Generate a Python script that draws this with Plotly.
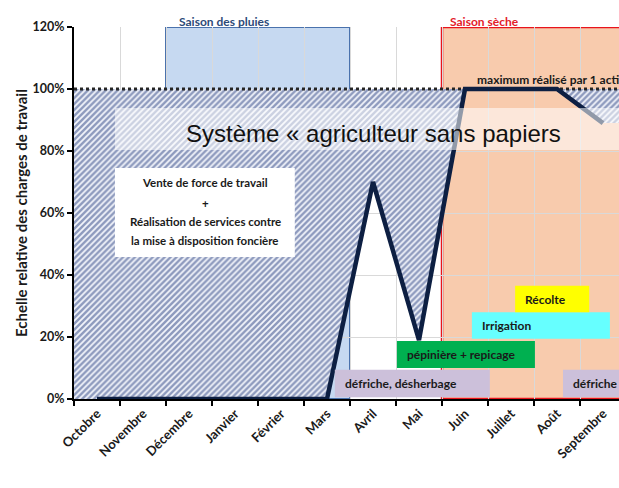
import plotly.graph_objects as go

# ---------------- data ----------------
months = ["Octobre", "Novembre", "Décembre", "Janvier", "Février", "Mars",
          "Avril", "Mai", "Juin", "Juillet", "Août", "Septembre"]
charge = [0, 0, 0, 0, 0, 0, 70, 19, 100, 100, 100, 89]   # % of max workload
max_level = 100
y_ticks = [0, 20, 40, 60, 80, 100, 120]
y_ticktext = ["0%", "20%", "40%", "60%", "80%", "100%", "120%"]

# seasons: (label, first month index, last month index)
season_rain = ("Saison des pluies", 2, 5)
season_dry = ("Saison sèche", 8, 11)

# activities: label, start, end (month units), band low/high (%), colour
act_labels = ["défriche, désherbage", "pépinière + repicage", "Irrigation", "Récolte", "défriche"]
act_start = [5.17, 6.52, 8.15, 9.09, 10.13]
act_end = [8.54, 9.52, 11.15, 10.70, 12.5]
act_low = [0.6, 10.0, 19.4, 28.0, 0.6]
act_high = [9.4, 18.7, 28.0, 36.5, 9.4]
act_colors = ["#ccc0da", "#00b050", "#66ffff", "#ffff00", "#ccc0da"]

box_lines = ["Vente de force de travail", "+", "Réalisation de services contre",
             "la mise à disposition foncière"]

FONT = "Lato"
x = list(range(len(months)))
XMAX = -0.5 + 545 / 46

fig = go.Figure()

# hatched area between workload and max level
hx = [-0.5] + x + [x[-1] + 0.6]
hy = [charge[0]] + charge + [charge[-1]]
fig.add_trace(go.Scatter(x=hx, y=hy, mode="lines", line=dict(width=0),
                         showlegend=False, hoverinfo="skip"))
fig.add_trace(go.Scatter(x=hx, y=[max_level] * len(hx), mode="lines",
                         line=dict(color="#262626", width=3, dash="dot"),
                         fill="tonexty", fillcolor="white",
                         fillpattern=dict(shape="/", size=4.2, solidity=0.58,
                                          fgcolor="#263d80", bgcolor="#f4f6fb"),
                         showlegend=False, hoverinfo="skip"))
# workload line
fig.add_trace(go.Scatter(x=x, y=charge, mode="lines",
                         line=dict(color="#0d1f42", width=4.5),
                         showlegend=False))

shapes = []
shapes.append(dict(type="rect", xref="x", yref="y", layer="below",
                   x0=season_rain[1] - 0.5, x1=season_rain[2] + 0.5, y0=0, y1=120,
                   fillcolor="#c6d9f1", line=dict(color="#4a72ad", width=2)))
shapes.append(dict(type="rect", xref="x", yref="y", layer="below",
                   x0=season_dry[1] - 0.5, x1=season_dry[2] + 1.5, y0=0, y1=120,
                   fillcolor="#f8cbad", line=dict(color="#e8141c", width=2.5)))
for lab, s, e, lo, hi, c in zip(act_labels, act_start, act_end, act_low, act_high, act_colors):
    shapes.append(dict(type="rect", xref="x", yref="y", layer="above",
                       x0=s, x1=e, y0=lo, y1=hi, fillcolor=c, line=dict(width=0)))
shapes.append(dict(type="rect", xref="x", yref="y", layer="above",
                   x0=0.39, x1=4.30, y0=45.8, y1=74.5, fillcolor="white", line=dict(width=0)))
shapes.append(dict(type="rect", xref="x", yref="y", layer="above",
                   x0=0.39, x1=12.5, y0=80.3, y1=93.9,
                   fillcolor="rgba(255,255,255,0.55)", line=dict(width=0)))

annotations = []
bold = dict(family=FONT, size=12, color="#1a1a1a", weight="bold")
for lab, s, lo, hi in zip(act_labels, act_start, act_low, act_high):
    annotations.append(dict(x=s + 0.17, y=(lo + hi) / 2, xref="x", yref="y", text=lab,
                            showarrow=False, xanchor="left", yanchor="middle", font=bold))
line_y = [69.7, 63.2, 57.1, 51.0]
for t, yy in zip(box_lines, line_y):
    annotations.append(dict(x=2.35, y=yy, xref="x", yref="y", text=t,
                            showarrow=False, xanchor="center", yanchor="middle",
                            font=dict(family=FONT, size=11.5, color="#1a1a1a", weight="bold")))
annotations.append(dict(x=6.02, y=85.8, xref="x", yref="y",
                        text="Système « agriculteur sans papiers",
                        showarrow=False, xanchor="center", yanchor="middle",
                        font=dict(family="Liberation Sans", size=24, color="#111111")))
annotations.append(dict(x=1.74, y=(399 - 21) / 372, xref="x", yref="paper", text=season_rain[0],
                        showarrow=False, xanchor="left", yanchor="middle",
                        font=dict(family=FONT, size=12, color="#2d4a78", weight="bold")))
annotations.append(dict(x=7.63, y=(399 - 21) / 372, xref="x", yref="paper", text=season_dry[0],
                        showarrow=False, xanchor="left", yanchor="middle",
                        font=dict(family=FONT, size=12, color="#e3202a", weight="bold")))
annotations.append(dict(x=8.22, y=103.2, xref="x", yref="y", text="maximum réalisé par 1 actif",
                        showarrow=False, xanchor="left", yanchor="middle",
                        font=dict(family=FONT, size=12, color="#1a1a1a", weight="bold")))
annotations.append(dict(x=(21 - 74) / 545, y=0.5, xref="paper", yref="paper",
                        text="Echelle relative des charges de travail", textangle=-90,
                        showarrow=False, xanchor="center", yanchor="middle",
                        font=dict(family=FONT, size=15, color="#1a1a1a", weight="bold")))

fig.update_layout(
    width=619, height=488,
    margin=dict(l=74, r=0, t=27, b=89),
    paper_bgcolor="white", plot_bgcolor="white",
    shapes=shapes, annotations=annotations, showlegend=False,
    xaxis=dict(range=[-0.5, XMAX], tickmode="array", tickvals=x, ticktext=months,
               tickangle=-45, ticks="", showgrid=False, zeroline=False,
               showline=True, linecolor="black", linewidth=2,
               tickfont=dict(family=FONT, size=13, color="#1a1a1a", weight="bold"),
               minor=dict(tickmode="array", tickvals=[i - 0.5 for i in range(len(months) + 1)],
                          ticks="outside", ticklen=5, tickcolor="black", tickwidth=1.5,
                          showgrid=True, gridcolor="#d9d9d9", gridwidth=1)),
    yaxis=dict(range=[0, 120], tickmode="array", tickvals=y_ticks, ticktext=y_ticktext,
               ticks="outside", ticklen=5, tickcolor="black", tickwidth=1.5,
               showgrid=True, gridcolor="#d9d9d9", gridwidth=1, zeroline=False,
               showline=True, linecolor="black", linewidth=2,
               tickfont=dict(family=FONT, size=12.5, color="#1a1a1a", weight="bold")),
)

fig.write_html("out.html", config={"displayModeBar": False},
               post_script="document.body.style.margin='0px';")
